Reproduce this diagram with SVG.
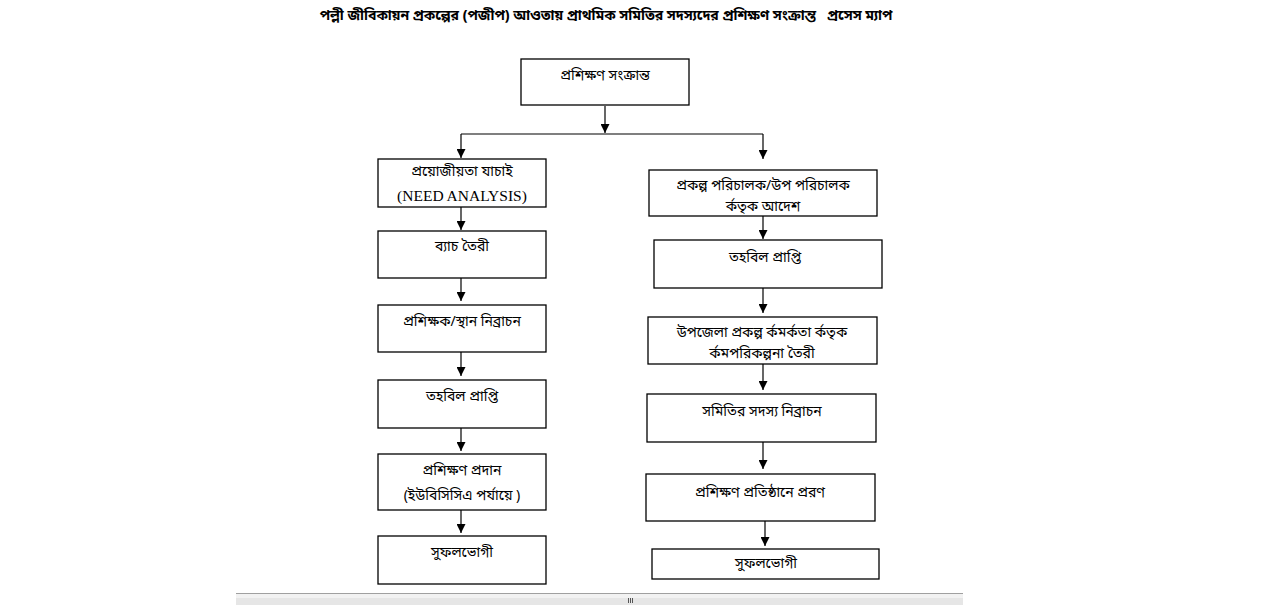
<svg xmlns="http://www.w3.org/2000/svg" width="1274" height="605" viewBox="0 0 1274 605">
<style>
.box{fill:#fff;stroke:#000;stroke-width:1.3}
.bn{font-family:"Noto Sans Bengali","Noto Serif Bengali","Lohit Bengali","Noto Sans",sans-serif;font-size:14px;fill:#000;text-anchor:middle}
.en{font-family:"Liberation Serif","Times New Roman",serif;font-size:15.5px;fill:#000;text-anchor:middle}
.title{font-family:"Noto Sans Bengali","Noto Serif Bengali","Lohit Bengali","Noto Sans",sans-serif;font-size:14px;font-weight:bold;fill:#000;text-anchor:middle;white-space:pre}
.ln{stroke:#000;stroke-width:1.2;fill:none}
</style>
<defs>
<marker id="ah" viewBox="0 0 10 10" refX="10" refY="5" markerWidth="9" markerHeight="9" markerUnits="userSpaceOnUse" orient="auto">
<path d="M0,0 L10,5 L0,10 z" fill="#000"/>
</marker>
</defs>
<rect width="1274" height="605" fill="#fff"/>
<text class="title" x="606" y="20" xml:space="preserve">পল্লী জীবিকায়ন প্রকল্পের (পজীপ) আওতায় প্রাথমিক সমিতির সদস্যদের প্রশিক্ষণ সংক্রান্ত   প্রসেস ম্যাপ</text>

<g id="connectors">
<line class="ln" x1="605" y1="106" x2="605" y2="133" marker-end="url(#ah)"/>
<line class="ln" x1="461" y1="134" x2="763" y2="134"/>
<line class="ln" x1="461" y1="134" x2="461" y2="158" marker-end="url(#ah)"/>
<line class="ln" x1="763" y1="134" x2="763" y2="159" marker-end="url(#ah)"/>
<line class="ln" x1="461" y1="207" x2="461" y2="230" marker-end="url(#ah)"/>
<line class="ln" x1="461" y1="278" x2="461" y2="301" marker-end="url(#ah)"/>
<line class="ln" x1="461" y1="352" x2="461" y2="376" marker-end="url(#ah)"/>
<line class="ln" x1="461" y1="428" x2="461" y2="451" marker-end="url(#ah)"/>
<line class="ln" x1="461" y1="510" x2="461" y2="533" marker-end="url(#ah)"/>
<line class="ln" x1="763" y1="216" x2="763" y2="239" marker-end="url(#ah)"/>
<line class="ln" x1="763" y1="288" x2="763" y2="313" marker-end="url(#ah)"/>
<line class="ln" x1="763" y1="364" x2="763" y2="390" marker-end="url(#ah)"/>
<line class="ln" x1="763" y1="442" x2="763" y2="469" marker-end="url(#ah)"/>
<line class="ln" x1="765" y1="521" x2="765" y2="546" marker-end="url(#ah)"/>
</g>

<g id="n-top"><rect class="box" x="521" y="59" width="168" height="46"/><text class="bn" x="605" y="80">প্রশিক্ষণ সংক্রান্ত</text></g>

<g id="n-l1"><rect class="box" x="378" y="159" width="168" height="48"/><text class="bn" x="462" y="176">প্রয়োজীয়তা যাচাই</text><text class="en" x="462" y="201">(NEED ANALYSIS)</text></g>
<g id="n-l2"><rect class="box" x="378" y="231" width="168" height="47"/><text class="bn" x="462" y="251">ব্যাচ তৈরী</text></g>
<g id="n-l3"><rect class="box" x="378" y="305" width="168" height="47"/><text class="bn" x="462" y="326">প্রশিক্ষক/স্থান নিব্রাচন</text></g>
<g id="n-l4"><rect class="box" x="378" y="380" width="168" height="48"/><text class="bn" x="462" y="401">তহবিল প্রাপ্তি</text></g>
<g id="n-l5"><rect class="box" x="378" y="454" width="168" height="56"/><text class="bn" x="462" y="475">প্রশিক্ষণ প্রদান</text><text class="bn" x="462" y="500">(ইউবিসিসিএ পর্যায়ে )</text></g>
<g id="n-l6"><rect class="box" x="378" y="536" width="168" height="48"/><text class="bn" x="462" y="557">সুফলভোগী</text></g>

<g id="n-r1"><rect class="box" x="649" y="170" width="228" height="46"/><text class="bn" x="763" y="190">প্রকল্প পরিচালক/উপ পরিচালক</text><text class="bn" x="763" y="211">র্কতৃক আদেশ</text></g>
<g id="n-r2"><rect class="box" x="654" y="240" width="228" height="48"/><text class="bn" x="765" y="262">তহবিল প্রাপ্তি</text></g>
<g id="n-r3"><rect class="box" x="648" y="317" width="229" height="47"/><text class="bn" x="762" y="337">উপজেলা প্রকল্প র্কমর্কতা র্কতৃক</text><text class="bn" x="762" y="358">র্কমপরিকল্পনা তৈরী</text></g>
<g id="n-r4"><rect class="box" x="647" y="394" width="229" height="48"/><text class="bn" x="762" y="416">সমিতির সদস্য নিব্রাচন</text></g>
<g id="n-r5"><rect class="box" x="646" y="474" width="229" height="47"/><text class="bn" x="760" y="497">প্রশিক্ষণ প্রতিষ্ঠানে প্ররণ</text></g>
<g id="n-r6"><rect class="box" x="652" y="549" width="227" height="30"/><text class="bn" x="766" y="568">সুফলভোগী</text></g>

<g id="scrollbar">
<rect x="236" y="593" width="727" height="12" fill="#e6e6e6"/>
<line x1="236" y1="593.5" x2="963" y2="593.5" stroke="#a0a0a0" stroke-width="1"/>
<rect x="236" y="594" width="727" height="4" fill="#f2f2f2"/>
<line x1="628.5" y1="598" x2="628.5" y2="603" stroke="#555"/>
<line x1="630.5" y1="598" x2="630.5" y2="603" stroke="#555"/>
<line x1="632.5" y1="598" x2="632.5" y2="603" stroke="#555"/>
</g>
</svg>
